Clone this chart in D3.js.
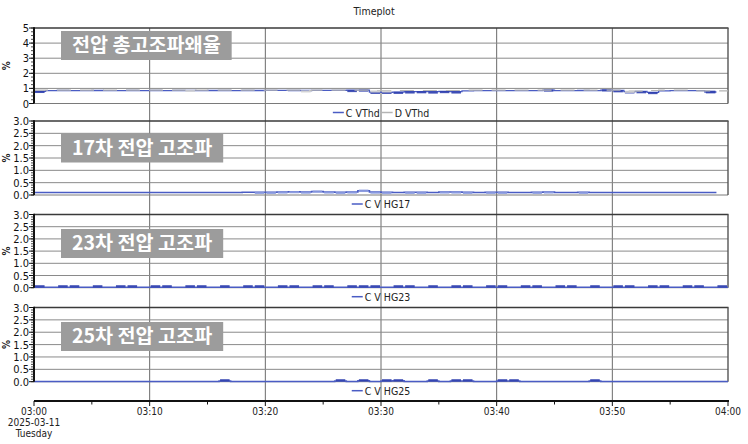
<!DOCTYPE html>
<html><head><meta charset="utf-8">
<script src="https://cdn.jsdelivr.net/npm/d3@7"></script>
<style>
body{margin:0;background:#fff;}
svg text{font-family:"Liberation Sans Narrow","DejaVu Sans Condensed","Liberation Sans",Arial,sans-serif;}
.lbl{font-family:"Noto Sans CJK KR","Noto Sans",sans-serif !important;font-weight:700;}
</style></head>
<body>
<svg id="c" width="748" height="444"></svg>
<script>
// ---- data ----
const title = "Timeplot";
const startTime = new Date(2025, 2, 11, 3, 0);
const endTime = new Date(2025, 2, 11, 4, 0);
const xTickLabels = ["03:00", "03:10", "03:20", "03:30", "03:40", "03:50", "04:00"];
const dateLabel = ["2025-03-11", "Tuesday"];
const panelTitles = ["전압 총고조파왜율", "17차 전압 고조파", "23차 전압 고조파", "25차 전압 고조파"];
const panelMax = [5, 3, 3, 3];
const panelTickStep = [1, 0.5, 0.5, 0.5];
const panelMinorStep = [0.25, 0.1, 0.1, 0.1];
const yLabel = "%";
// per-minute values (60 minutes)
const cVThd = [0.80,0.85,0.86,0.85,0.85,0.86,0.85,0.85,0.86,0.85, 0.86,0.85,0.86,0.86,0.85,0.86,0.86,0.85,0.86,0.86,
               0.87,0.87,0.86,0.86,0.87,0.87,0.87,0.88,0.89,0.75, 0.74,0.75,0.78,0.79,0.78,0.80,0.78,0.84,0.85,0.85,
               0.85,0.85,0.85,0.85,0.89,0.85,0.85,0.86,0.85,0.89, 0.86,0.78,0.80,0.74,0.84,0.85,0.85,0.85,0.76,null];
const cVThdBlk = [0.08,0,0,0,0,0,0,0,0,0, 0,0,0,0,0,0,0,0,0,0,
                  0,0,0,0,0,0,0,0.04,0.08,0.06, 0.08,0.06,0.05,0.06,0.04,0.06,0.05,0,0,0,
                  0,0,0,0,0.08,0,0,0,0,0.1, 0.05,0.06,0.04,0.05,0,0,0,0,0.18,0];
const dVThd = [0.88,0.88,0.88,0.88,0.88,0.88,0.88,0.88,0.88,0.88, 0.88,0.88,0.88,0.89,0.88,0.88,0.88,0.88,0.88,0.88,
               0.89,0.89,0.88,0.85,0.88,0.88,0.88,0.88,0.88,0.85, 0.85,0.86,0.86,0.86,0.86,0.86,0.86,0.88,0.88,0.88,
               0.88,0.88,0.88,0.88,0.88,0.88,0.88,0.88,0.88,0.88, 0.88,0.82,0.82,0.86,0.88,0.88,0.88,0.84,0.84,0.84];
const dVThdBlk = [0,0,0,0,0,0,0,0,0,0, 0,0,0,0.05,0,0,0,0,0,0,
                  0,0,0,0.05,0,0,0,0,0,0.04, 0.04,0,0,0,0,0,0,0,0,0,
                  0,0,0,0,0,0,0,0,0,0, 0,0.05,0,0,0,0,0,0,0,0];
const cHG17 = [0.10,0.10,0.10,0.10,0.10,0.10,0.10,0.10,0.10,0.10, 0.10,0.10,0.10,0.10,0.10,0.10,0.10,0.10,0.11,0.11,
               0.11,0.12,0.13,0.12,0.14,0.12,0.11,0.12,0.17,0.12, 0.11,0.10,0.11,0.11,0.10,0.12,0.12,0.11,0.10,0.11,
               0.11,0.10,0.10,0.11,0.12,0.10,0.10,0.11,0.10,0.10, 0.10,0.10,0.10,0.10,0.10,0.10,0.10,0.10,0.10,null];
const cHG17Blk = [0,0,0,0,0,0,0,0,0,0, 0,0,0,0,0,0,0,0,0,0.04,
                  0.04,0.05,0.06,0.04,0.08,0.05,0.03,0.05,0.1,0.04, 0.03,0,0.04,0.03,0,0.05,0.05,0.04,0,0.04,
                  0.04,0,0,0.04,0.05,0,0,0.04,0,0, 0,0,0,0,0,0,0,0,0,0];
const cHG23 = [0.02,0.02,0.02,0.02,0.02,0.02,0.02,0.02,0.02,0.02, 0.02,0.02,0.02,0.02,0.02,0.02,0.02,0.02,0.02,0.02,
               0.02,0.02,0.02,0.02,0.02,0.02,0.02,0.02,0.02,0.02, 0.02,0.02,0.02,0.02,0.02,0.02,0.02,0.02,0.02,0.02,
               0.02,0.02,0.02,0.02,0.02,0.02,0.02,0.02,0.02,0.02, 0.02,0.02,0.02,0.02,0.02,0.02,0.02,0.02,0.02,0.02];
const cHG23Blk = [0.04,0,0.04,0.04,0,0.04,0,0.04,0.04,0, 0.04,0.04,0,0.04,0.04,0,0.04,0,0.04,0.04,
                  0,0.04,0.04,0,0.04,0.04,0,0.04,0.04,0.04, 0,0.04,0.04,0,0.04,0,0.04,0.04,0,0.04,
                  0.04,0,0.04,0.04,0,0.04,0.04,0,0.04,0, 0.04,0.04,0,0.04,0.04,0,0.04,0.04,0,0.04];
const cHG25 = [0.01,0.01,0.01,0.01,0.01,0.01,0.01,0.01,0.01,0.01, 0.01,0.01,0.01,0.01,0.01,0.01,0.03,0.01,0.01,0.01,
               0.01,0.01,0.01,0.01,0.01,0.01,0.03,0.01,0.04,0.01, 0.03,0.04,0.01,0.01,0.03,0.01,0.03,0.03,0.01,0.01,
               0.03,0.03,0.01,0.01,0.01,0.01,0.01,0.01,0.03,0.01, 0.01,0.01,0.01,0.01,0.01,0.01,0.01,0.01,0.01,0.01];
const cHG25Blk = [0,0,0,0,0,0,0,0,0,0, 0,0,0,0,0,0,0.04,0,0,0,
                  0,0,0,0,0,0,0.04,0,0.05,0, 0.04,0.05,0,0,0.04,0,0.04,0.04,0,0,
                  0.04,0.04,0,0,0,0,0,0,0.04,0, 0,0,0,0,0,0,0,0,0,0];
const legends = [["C VThd", "D VThd"], ["C V HG17"], ["C V HG23"], ["C V HG25"]];

// ---- layout ----
const svg = d3.select("#c");
const X0 = 34, X1 = 728;
const panelTops = [28, 121, 214.5, 307.5];
const panelBottoms = [103.5, 195, 287.7, 381.7];
const axisY = 401;
const x = d3.scaleTime().domain([startTime, endTime]).range([X0, X1]);
const minute = i => new Date(startTime.getTime() + i * 60000);

const blue = "#4a5cc4", blueDark = "#2f3fae", blueLight = "#8c9be0";
const gray = "#b4b4b4", grayLight = "#d2d2d2";

svg.append("text").attr("x", 374).attr("y", 15).attr("text-anchor", "middle")
  .attr("font-size", 10.5).attr("fill", "#222").text(title);

const seriesByPanel = [
  [{v: cVThd, b: cVThdBlk, c: blue, bc: blueDark, w: 1.3}, {v: dVThd, b: dVThdBlk, c: gray, bc: grayLight, w: 1.2, dash: "14,9"}],
  [{v: cHG17, b: cHG17Blk, c: blue, bc: blueLight, w: 1.6}],
  [{v: cHG23, b: cHG23Blk, c: blue, bc: blueDark, w: 1.6}],
  [{v: cHG25, b: cHG25Blk, c: blue, bc: blueDark, w: 1.6}]
];
const legendColors = [[blue, gray], [blue], [blue], [blue]];

const vTicks = d3.range(1, 6).map(i => new Date(startTime.getTime() + i * 600000));

panelTops.forEach((top, p) => {
  const bot = panelBottoms[p];
  const y = d3.scaleLinear().domain([0, panelMax[p]]).range([bot, top]);
  const g = svg.append("g");
  const nextTop = p < 3 ? panelTops[p + 1] : axisY;
  g.selectAll(".vg").data(vTicks).enter().append("line")
    .attr("x1", d => x(d)).attr("x2", d => x(d)).attr("y1", top).attr("y2", nextTop)
    .attr("stroke", "#6a6a6a").attr("stroke-width", 1);
  const hTicks = d3.range(0, panelMax[p] + 1e-9, panelTickStep[p]);
  g.selectAll(".hg").data(hTicks.filter(t => t > 0 && t < panelMax[p])).enter().append("line")
    .attr("x1", X0).attr("x2", X1).attr("y1", d => y(d)).attr("y2", d => y(d))
    .attr("stroke", "#8a8a8a").attr("stroke-width", 1);
  g.append("line").attr("x1", X0).attr("x2", X1).attr("y1", y(0)).attr("y2", y(0))
    .attr("stroke", "#7a7a7a").attr("stroke-width", 1);
  g.append("line").attr("x1", X0).attr("x2", X1 + 0.5).attr("y1", top).attr("y2", top)
    .attr("stroke", "#3a3a3a").attr("stroke-width", 1.6);
  g.append("line").attr("x1", X1).attr("x2", X1).attr("y1", top).attr("y2", bot)
    .attr("stroke", "#555").attr("stroke-width", 1.4);

  seriesByPanel[p].forEach(s => {
    const pts = s.v.map((v, i) => ({t: i, v}));
    const lineData = [];
    pts.forEach(d => { if (d.v != null) { lineData.push([minute(d.t), d.v]); lineData.push([minute(d.t + 1), d.v]); } else lineData.push(null); });
    const line = d3.line().defined(d => d != null).x(d => x(d[0])).y(d => y(d[1]));
    g.append("path").attr("d", line(lineData)).attr("fill", "none")
      .attr("stroke", s.c).attr("stroke-width", s.w).attr("stroke-dasharray", s.dash || null);
    g.selectAll(null).data(pts.filter(d => d.v != null && s.b[d.t] > 0)).enter().append("rect")
      .attr("x", d => x(minute(d.t)) + 1).attr("width", d => x(minute(d.t + 1)) - x(minute(d.t)) - 2)
      .attr("y", d => Math.min(y(d.v + s.b[d.t] / 2), y(0) - 2.5))
      .attr("height", d => Math.max(2.2, Math.min(y(d.v - s.b[d.t] / 2), y(0)) - y(d.v + s.b[d.t] / 2)))
      .attr("fill", s.bc).attr("opacity", 0.9);
  });

  g.append("line").attr("x1", X0).attr("x2", X0).attr("y1", top - 0.8).attr("y2", bot)
    .attr("stroke", "#111").attr("stroke-width", 2);
  const minor = d3.range(0, panelMax[p] + 1e-9, panelMinorStep[p]);
  g.selectAll(".mt").data(minor).enter().append("line")
    .attr("x1", X0 - 3).attr("x2", X0).attr("y1", d => y(d)).attr("y2", d => y(d))
    .attr("stroke", "#222").attr("stroke-width", 0.8);
  g.selectAll(".Mt").data(hTicks).enter().append("line")
    .attr("x1", X0 - 5).attr("x2", X0).attr("y1", d => y(d)).attr("y2", d => y(d))
    .attr("stroke", "#111").attr("stroke-width", 1);
  g.selectAll(".tl").data(hTicks).enter().append("text")
    .attr("x", X0 - 5).attr("y", d => y(d) + 4).attr("text-anchor", "end")
    .attr("font-size", 11).attr("fill", "#111")
    .text(d => panelTickStep[p] < 1 ? d.toFixed(1) : d3.format("d")(d));
  g.append("text").attr("transform", `translate(10,${(top + bot) / 2}) rotate(-90)`)
    .attr("text-anchor", "middle").attr("font-size", 10).attr("font-weight", "bold").attr("fill", "#222").text(yLabel);

  const ly = bot + 9;
  const items = legends[p];
  const lg = g.append("g");
  let cx = 0;
  items.forEach((name, i) => {
    lg.append("line").attr("x1", cx).attr("x2", cx + 11).attr("y1", ly).attr("y2", ly)
      .attr("stroke", legendColors[p][i]).attr("stroke-width", 1.5);
    const t = lg.append("text").attr("x", cx + 13).attr("y", ly + 4).attr("font-size", 10.5).attr("fill", "#222").text(name);
    cx += 13 + t.node().getComputedTextLength() + 2;
  });
  lg.attr("transform", `translate(${382 - cx / 2},0)`);

  const boxTop = [31, 133.5, 229, 322][p];
  const lg2 = g.append("g");
  const txt = lg2.append("text").attr("class", "lbl").attr("x", 0).attr("y", 0)
    .attr("font-size", 19.6).attr("fill", "#fff").text(panelTitles[p]);
  const w = txt.node().getComputedTextLength();
  lg2.insert("rect", "text").attr("x", -11).attr("y", -21).attr("width", w + 22).attr("height", 29)
    .attr("fill", "#9c9c9c");
  lg2.attr("transform", `translate(${72},${boxTop + 21})`);
});

const ax = svg.append("g");
ax.append("line").attr("x1", X0).attr("x2", X1 + 1).attr("y1", axisY).attr("y2", axisY)
  .attr("stroke", "#111").attr("stroke-width", 2.2);
const allTicks = d3.range(0, 13).map(i => new Date(startTime.getTime() + i * 300000));
ax.selectAll(".xt").data(allTicks).enter().append("line")
  .attr("x1", d => x(d)).attr("x2", d => x(d)).attr("y1", axisY)
  .attr("y2", (d, i) => axisY + (i % 2 === 0 ? 5 : 3.5))
  .attr("stroke", "#111").attr("stroke-width", 1);
const majors = d3.range(0, 7).map(i => new Date(startTime.getTime() + i * 600000));
ax.selectAll(".xl").data(majors).enter().append("text")
  .attr("x", d => x(d)).attr("y", 415).attr("text-anchor", "middle")
  .attr("font-size", 10).attr("fill", "#222").text((d, i) => xTickLabels[i]);
dateLabel.forEach((s, i) => {
  ax.append("text").attr("x", X0).attr("y", 426 + i * 10.5).attr("text-anchor", "middle")
    .attr("font-size", 10).attr("fill", "#222").text(s);
});
</script>
</body></html>
